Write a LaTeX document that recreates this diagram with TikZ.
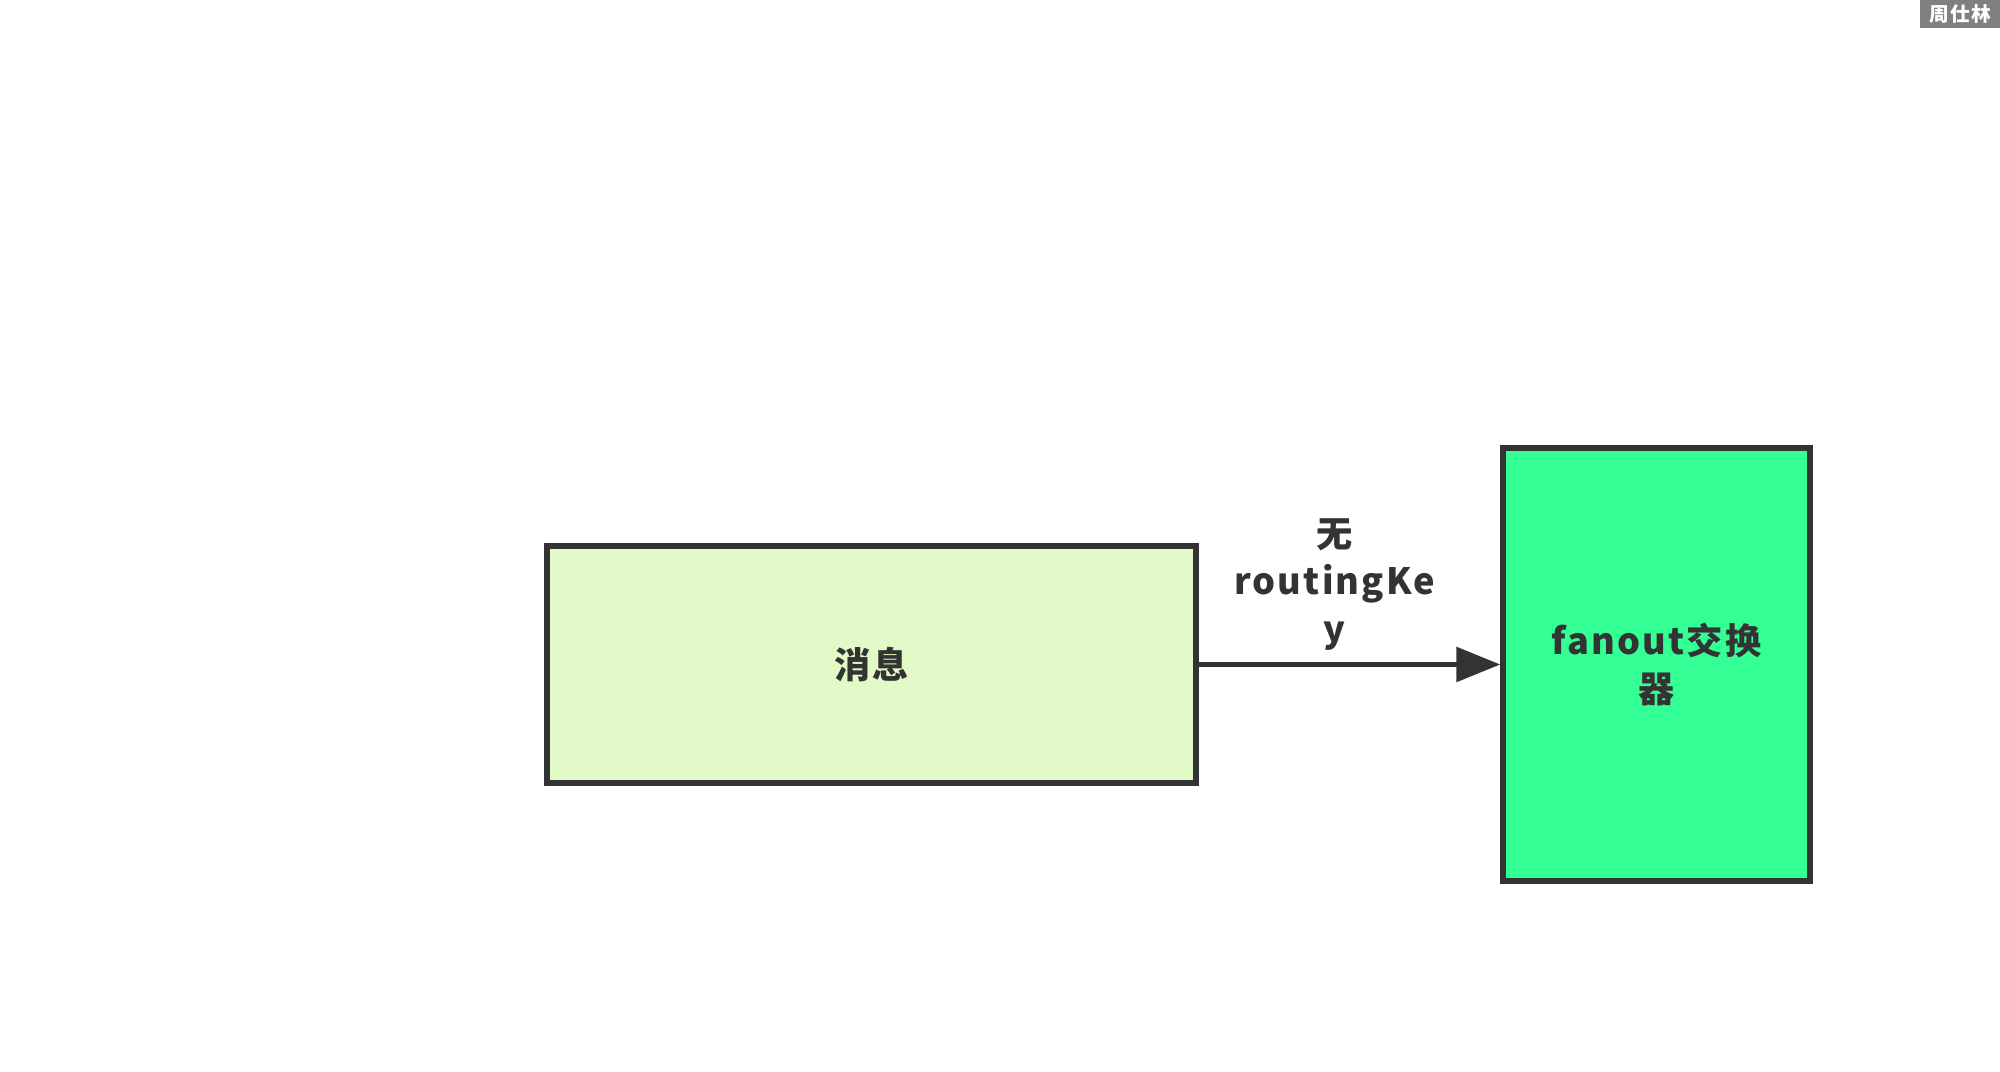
\documentclass[tikz,border=0pt]{standalone}
\usepackage{fontspec}
\setmainfont{Noto Sans CJK SC}[LetterSpace=6]
\usetikzlibrary{positioning,arrows.meta}

\definecolor{msgfill}{RGB}{226,250,200}
\definecolor{exfill}{RGB}{51,255,148}
\definecolor{edge}{RGB}{51,51,51}
\definecolor{markgray}{RGB}{128,128,128}

\tikzset{
	box/.style={draw=edge, line width=1.5pt, text=edge, font=\fontsize{10.3}{13.4}\selectfont\bfseries, align=center, inner sep=0pt},
	flow/.style={draw=edge, line width=1.6pt, -{Triangle[length=0.44cm,width=0.34cm]}}
}

\begin{document}
\begin{tikzpicture}[x=1cm,y=1cm]

		\useasboundingbox (0,0) rectangle (20,10.72);

		\node [box, fill=msgfill, minimum width=6.49cm, minimum height=2.37cm] (msg) at (8.715,4.075) {消息};
		\node [box, fill=exfill, minimum width=3.07cm, minimum height=4.33cm] (fanout) at (16.565,4.075) {fanout交换\\器};

		\draw [flow] (msg.east) -- (fanout.west) node [midway, above=0.0cm, xshift=-0.15cm, text=edge, font=\fontsize{10.3}{13.4}\selectfont\bfseries, align=center] (key) {无\\routingKe\\y};

		\fill [markgray] (19.2,10.44) rectangle (20,10.72);
		\node [text=white, font=\fontsize{5.6}{6}\selectfont\bfseries, inner sep=0pt] (mark) at (19.6,10.58) {周仕林};

\end{tikzpicture}
\end{document}
